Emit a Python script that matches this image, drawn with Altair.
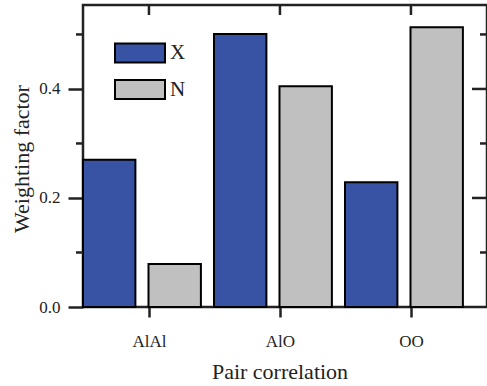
import altair as alt
import pandas as pd

pairs = ["AlAl", "AlO", "OO"]
x_values = [0.270, 0.501, 0.229]
n_values = [0.079, 0.405, 0.513]
series = ["X", "N"]
colors = ["#3953a4", "#c0c0c0"]
major_ticks = [0.0, 0.2, 0.4]
minor_ticks = [0.1, 0.3, 0.5]
right_major = [0.2, 0.4]

rows = []
for p, xv, nv in zip(pairs, x_values, n_values):
    rows.append({"pair": p, "series": "X", "value": xv})
    rows.append({"pair": p, "series": "N", "value": nv})
df = pd.DataFrame(rows)

W, H = 404, 302
FONT = "Liberation Serif"

xscale = alt.Scale(domain=pairs, paddingInner=0.1, paddingOuter=0.092, align=0)
yscale = alt.Scale(domain=[0, 0.554], nice=False, zero=True)

bars = alt.Chart(df).mark_bar(stroke="black", strokeWidth=2).encode(
    x=alt.X("pair:N", scale=xscale, sort=pairs,
            axis=alt.Axis(title="Pair correlation", labelAngle=0, tickOffset=7,
                          tickSize=10, labelPadding=16, titlePadding=12,
                          titleX=196.5, labelFont=FONT, titleFont=FONT,
                          labelFontSize=17, titleFontSize=22)),
    xOffset=alt.XOffset("series:N", sort=series,
                        scale=alt.Scale(domain=series, paddingInner=0.2, paddingOuter=0)),
    y=alt.Y("value:Q", scale=yscale,
            axis=alt.Axis(title="Weighting factor", values=major_ticks, format=".1f",
                          tickSize=15, labelPadding=8, titlePadding=5,
                          titleY=153.5, labelFont=FONT, titleFont=FONT,
                          labelFontSize=17, titleFontSize=22)),
    color=alt.Color("series:N", sort=series,
                    scale=alt.Scale(domain=series, range=colors),
                    legend=alt.Legend(title=None, orient="none", legendX=46, legendY=37,
                                      symbolType="M-2.5,-0.95L2.5,-0.95L2.5,0.95L-2.5,0.95Z",
                                      symbolSize=400, symbolStrokeColor="black",
                                      symbolStrokeWidth=2, labelFontSize=21,
                                      labelFont=FONT, labelOffset=19, rowPadding=8.5,
                                      padding=0, labelColor="#222")),
)

minor_df = pd.DataFrame({"v": minor_ticks})
left_minor = alt.Chart(minor_df).mark_rule(strokeWidth=2.5, color="#222").encode(
    y=alt.Y("v:Q", scale=yscale), x=alt.value(-7), x2=alt.value(0))
right_minor = alt.Chart(minor_df).mark_rule(strokeWidth=2.5, color="#222").encode(
    y=alt.Y("v:Q", scale=yscale), x=alt.value(W - 7), x2=alt.value(W))
rmaj_df = pd.DataFrame({"v": right_major})
right_majr = alt.Chart(rmaj_df).mark_rule(strokeWidth=2.5, color="#222").encode(
    y=alt.Y("v:Q", scale=yscale), x=alt.value(W - 15), x2=alt.value(W))

top_df = pd.DataFrame({"pair": pairs})
top_ticks = alt.Chart(top_df).mark_rule(strokeWidth=2.5, color="#222", xOffset=7).encode(
    x=alt.X("pair:N", scale=xscale, sort=pairs),
    y=alt.value(0), y2=alt.value(10))

chart = alt.layer(bars, left_minor, right_minor, right_majr, top_ticks).properties(
    width=W, height=H,
    padding={"left": 83, "top": 5, "right": 0, "bottom": 79},
    autosize=alt.AutoSizeParams(type="none"),
    background="white",
).configure(font=FONT).configure_view(stroke="#222", strokeWidth=2.5).configure_axis(
    labelFont=FONT, titleFont=FONT, labelFontSize=17, titleFontSize=22,
    titleFontWeight="normal", labelColor="#222", titleColor="#222",
    tickColor="#222", tickWidth=2.5, domain=False, grid=False,
)

chart.save("out.html", embed_options={"renderer": "svg", "actions": False})
